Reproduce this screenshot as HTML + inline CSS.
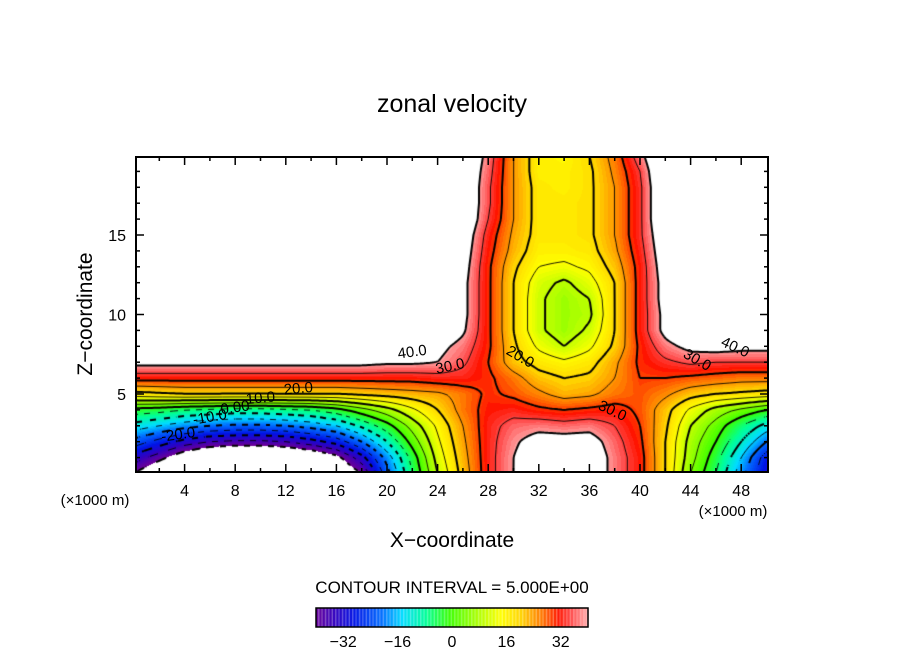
<!DOCTYPE html>
<html><head><meta charset="utf-8"><style>
body{margin:0;background:#fff;width:904px;height:654px;overflow:hidden;position:relative;font-family:"Liberation Sans",sans-serif}
canvas{position:absolute;left:0;top:0}
svg{position:absolute;left:0;top:0}
</style></head><body>
<canvas id="cv" width="904" height="654"></canvas>
<svg id="sv" width="904" height="654"></svg>
<script>
const xCoords=[0,2,4,6,8,10,12,14,16,18,20,22,24,26,28,30,32,34,36,38,40,42,44,46,48,50];
const zCoords=[0,1,2,3,4,5,6,7,8,9,10,11,12,13,14,15,16,17,18,19,20];
const W=55;
const field=[
[-40,-48,-55,-58,-60,-60,-58,-55,-48,-40,-22,-5,10,22,33,40,48,48,45,38,32,20,5,-5,-18,-30],
[-32,-38,-45,-50,-52,-52,-50,-47,-42,-32,-18,-3,12,23,33,40,45,46,45,38,32,20,7,-3,-15,-28],
[-22,-27,-32,-35,-36,-36,-35,-32,-28,-20,-10,2,14,24,33,39,43,43,43,37,31,20,8,0,-10,-20],
[-12,-15,-18,-20,-21,-21,-20,-18,-15,-9,-2,7,16,25,33,37,38,37,38,35,30,21,10,3,-5,-12],
[-2,-3,-5,-6,-7,-7,-6,-5,-2,3,8,14,20,27,32,33,31,30,31,32,29,22,14,8,4,0],
[18,19,20,20,20,20,20,20,20,21,22,23,24,27,31,29,26,23,24,27,29,26,22,20,19,18],
[32,32,32,32,32,32,32,32,32,32,32,32,33,33,31,27,22,20,21,25,30,30,29,28,27,27],
[42,42,42,42,42,42,42,42,42,42,41,41,40,36,30,22,18,16,18,24,31,34,36,35,35,35],
[W,W,W,W,W,W,W,W,54,53,52,46,42,38,31,21,14,10,14,21,31,38,42,43,42,42],
[W,W,W,W,W,W,W,W,W,W,W,50,46,41,31,20,11,7,11,20,32,42,48,52,W,W],
[W,W,W,W,W,W,W,W,W,W,W,53,48,42,31,20,11,7,9,20,32,42,50,W,W,W],
[W,W,W,W,W,W,W,W,W,W,W,W,50,42,31,20,11,7,10,20,32,43,52,W,W,W],
[W,W,W,W,W,W,W,W,W,W,W,W,50,42,31,20,12,9,13,20,32,43,52,W,W,W],
[W,W,W,W,W,W,W,W,W,W,W,W,51,43,31,21,15,14,16,22,32,44,52,W,W,W],
[W,W,W,W,W,W,W,W,W,W,W,W,53,44,32,23,17,17,18,24,33,45,W,W,W,W],
[W,W,W,W,W,W,W,W,W,W,W,W,54,45,33,24,18,18,19,25,34,46,W,W,W,W],
[W,W,W,W,W,W,W,W,W,W,W,W,W,47,35,25,18,18,19,25,34,48,W,W,W,W],
[W,W,W,W,W,W,W,W,W,W,W,W,W,47,36,25,18,18,19,25,34,48,W,W,W,W],
[W,W,W,W,W,W,W,W,W,W,W,W,W,47,36,25,18,17,19,25,34,48,W,W,W,W],
[W,W,W,W,W,W,W,W,W,W,W,W,W,47,37,25,17,17,19,26,35,49,W,W,W,W],
[W,W,W,W,W,W,W,W,W,W,W,W,W,48,38,25,17,16,20,27,38,50,W,W,W,W]];
const xTicks=[4,8,12,16,20,24,28,32,36,40,44,48];
const zTicks=[5,10,15];
const cbTicks=[-32,-16,0,16,32];
const contourLabels=[["40.0",22,7.6,-8],["30.0",25,6.7,-12],["20.0",13,5.3,-5],["10.0",10,4.7,-5],["0.00",8,4.1,-8],["-10.0",6,3.5,-10],["-20.0",3.5,2.4,-8],["20.0",30.5,7.3,30],["30.0",37.8,3.9,25],["30.0",44.5,7.1,30],["40.0",47.5,7.9,25]];

const X0=134,XS=12.65,Z0=473.5,ZS=15.9;
const PL=136,PR=768,PT=157,PB=472;
const xp=x=>X0+x*XS, zp=z=>Z0-z*ZS;
function val(x,z){
  let i=Math.min(Math.max(x/2,0),24.999), j=Math.min(Math.max(z,0),19.999);
  let i0=Math.floor(i),j0=Math.floor(j),fx=i-i0,fz=j-j0;
  const a=field[j0][i0],b=field[j0][i0+1],c=field[j0+1][i0],d=field[j0+1][i0+1];
  return (a*(1-fx)+b*fx)*(1-fz)+(c*(1-fx)+d*fx)*fz;
}
const stops=[[-40,[110,0,150]],[-34,[50,0,190]],[-28,[0,20,230]],[-20,[0,110,255]],[-14,[0,220,255]],[-7,[0,255,150]],[0,[60,255,0]],[8,[170,255,0]],[15,[255,255,0]],[21,[255,210,0]],[27,[255,120,0]],[32,[255,20,0]],[36,[255,80,80]],[40,[255,160,160]]];
function col(v){
  if(v>40||v<-40) return [255,255,255];
  v=Math.round(v);
  for(let k=0;k<stops.length-1;k++){const [a,ca]=stops[k],[b,cb]=stops[k+1];
    if(v<=b){const t=(v-a)/(b-a);return ca.map((c,m)=>Math.round(c+(cb[m]-c)*t));}}
  return stops[stops.length-1][1];
}
const cv=document.getElementById('cv'),ctx=cv.getContext('2d');
const img=ctx.createImageData(PR-PL,PB-PT);
for(let py=PT;py<PB;py++)for(let px=PL;px<PR;px++){
  const v=val((px+0.5-X0)/XS,(Z0-py-0.5)/ZS);const c=col(v);
  const o=((py-PT)*(PR-PL)+(px-PL))*4;img.data[o]=c[0];img.data[o+1]=c[1];img.data[o+2]=c[2];img.data[o+3]=255;}
ctx.putImageData(img,PL,PT);
const S=2,nx=Math.ceil((PR-PL)/S),ny=Math.ceil((PB-PT)/S);
const g=[];for(let j=0;j<=ny;j++){g.push([]);for(let i=0;i<=nx;i++){const px=Math.min(PL+i*S,PR),py=Math.min(PT+j*S,PB);g[j].push(val((px-X0)/XS,(Z0-py)/ZS));}}
ctx.save();ctx.beginPath();ctx.rect(PL,PT,PR-PL,PB-PT);ctx.clip();ctx.strokeStyle='#000';
for(let L=-40;L<=40;L+=5){
  ctx.lineWidth=(L%10===0)?2:0.9;ctx.beginPath();
  for(let j=0;j<ny;j++)for(let i=0;i<nx;i++){
    if(L<0&&((i+j)%6)>2)continue;
    const v=[g[j][i],g[j][i+1],g[j+1][i+1],g[j+1][i]];
    const p=[[i,j],[i+1,j],[i+1,j+1],[i,j+1]];const pts=[];
    for(let e=0;e<4;e++){const a=v[e],b=v[(e+1)%4];
      if((a<L)!==(b<L)){const t=(L-a)/(b-a);const A=p[e],B=p[(e+1)%4];pts.push([PL+(A[0]+(B[0]-A[0])*t)*S,PT+(A[1]+(B[1]-A[1])*t)*S]);}}
    for(let k=0;k+1<pts.length;k+=2){ctx.moveTo(pts[k][0],pts[k][1]);ctx.lineTo(pts[k+1][0],pts[k+1][1]);}
  }ctx.stroke();}
ctx.restore();
const CB0=316,CB1=588,CBT=608,CBB=627,cbs=(CB1-CB0)/80;
for(let v=-40;v<40;v+=1){ctx.fillStyle='rgb('+col(v+0.5).join(',')+')';ctx.fillRect(CB0+(v+40)*cbs,CBT,cbs+0.3,CBB-CBT);
  ctx.fillStyle='rgba(255,255,255,0.35)';ctx.fillRect(CB0+(v+40)*cbs+cbs*0.6,CBT,cbs*0.4,CBB-CBT);}
const sv=document.getElementById('sv'),NS='http://www.w3.org/2000/svg';
function el(t,a,txt){const e=document.createElementNS(NS,t);for(const k in a)e.setAttribute(k,a[k]);if(txt!==undefined)e.textContent=txt;sv.appendChild(e);return e;}
let e;
e=el('rect',{x:PL,y:PT,width:PR-PL,height:PB-PT,fill:'none',stroke:'#000','stroke-width':2});


for(let x=2;x<50;x+=2){const maj=x%4===0,len=maj?8:4;
  e=el('line',{x1:xp(x),x2:xp(x),y1:PB,y2:PB-len,stroke:'#000','stroke-width':1.5});
  
  
  e=el('line',{x1:xp(x),x2:xp(x),y1:PT,y2:PT+len,stroke:'#000','stroke-width':1.5});
  
  }
for(let z=1;z<20;z++){const maj=z%5===0,len=maj?8:4;
  e=el('line',{x1:PL,x2:PL+len,y1:zp(z),y2:zp(z),stroke:'#000','stroke-width':1.5});
  
  
  e=el('line',{x1:PR,x2:PR-len,y1:zp(z),y2:zp(z),stroke:'#000','stroke-width':1.5});
  
  }
xTicks.forEach(x=>{e=el('text',{x:xp(x),y:496,'font-size':16,'text-anchor':'middle'},String(x));
  
  });
zTicks.forEach(z=>{e=el('text',{x:126,y:zp(z)+6,'font-size':16,'text-anchor':'end'},String(z));
  
  });
contourLabels.forEach(([t,x,z,r])=>{e=el('text',{x:xp(x),y:zp(z),'font-size':15,'text-anchor':'middle','dominant-baseline':'middle',transform:`rotate(${r} ${xp(x)} ${zp(z)})`},t);
  
  });
e=el('text',{x:95,y:505,'font-size':15,'text-anchor':'middle'},'(\u00d71000 m)');


e=el('text',{x:733,y:516,'font-size':15,'text-anchor':'middle'},'(\u00d71000 m)');


e=el('text',{x:452,y:112,'font-size':25,'text-anchor':'middle'},'zonal velocity');


e=el('text',{x:452,y:547,'font-size':21,'text-anchor':'middle'},'X\u2212coordinate');


e=el('text',{x:92,y:314,'font-size':21,'text-anchor':'middle',transform:'rotate(-90 92 314)'},'Z\u2212coordinate');


e=el('text',{x:452,y:593,'font-size':17,'text-anchor':'middle'},'CONTOUR INTERVAL = 5.000E+00');


e=el('rect',{x:CB0,y:CBT,width:CB1-CB0,height:CBB-CBT,fill:'none',stroke:'#000','stroke-width':1.5});


cbTicks.forEach(v=>{e=el('text',{x:CB0+(v+40)*cbs,y:647,'font-size':16,'text-anchor':'middle'},v<0?'\u2212'+(-v):String(v));
  
  });
</script>
</body></html>
